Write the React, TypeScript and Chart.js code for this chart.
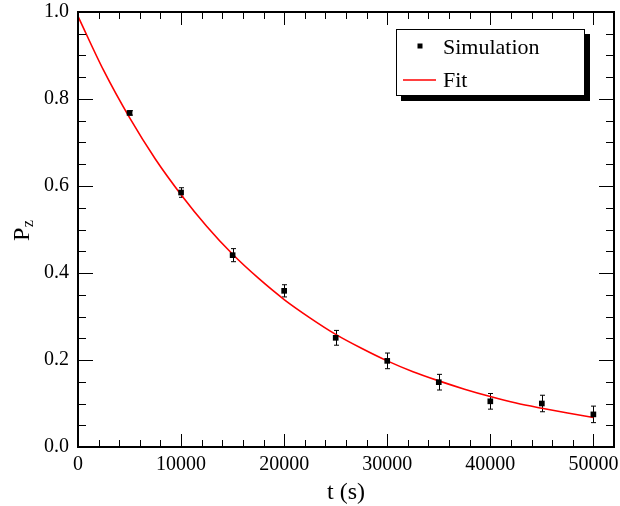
import React, { useEffect, useRef } from 'react';
import { Chart, registerables } from 'chart.js';
Chart.register(...registerables);

// Simulation data (t in s, P_z) with error bars
const simT = [5000, 10000, 15000, 20000, 25000, 30000, 35000, 40000, 45000, 50000];
const simP = [0.768, 0.585, 0.441, 0.359, 0.251, 0.198, 0.149, 0.105, 0.100, 0.075];
const simErr = [0.005, 0.011, 0.015, 0.014, 0.017, 0.018, 0.018, 0.018, 0.019, 0.019];

// Fit curve
const fitT = [0, 2500, 5000, 7500, 10000, 12500, 15000, 17500, 20000, 22500, 25000, 27500, 30000, 32500, 35000, 37500, 40000, 42500, 45000, 47500, 50000];
const fitP = [0.99, 0.865, 0.757, 0.662, 0.58, 0.507, 0.443, 0.388, 0.339, 0.297, 0.259, 0.227, 0.198, 0.173, 0.152, 0.133, 0.116, 0.101, 0.089, 0.078, 0.068];

// Axes
const xMin = 0;
const xMax = 52000;
const xTickValues = [0, 10000, 20000, 30000, 40000, 50000];
const xMajor = 10000;
const xMinor = 2000;
const yMin = 0;
const yMax = 1.0;
const yTickValues = [0, 0.2, 0.4, 0.6, 0.8, 1.0];
const yMajor = 0.2;
const yMinor = 0.05;

const legendLabels = ['Simulation', 'Fit'];
const xTitle = 't (s)';
const yTitleMain = 'P';
const yTitleSub = 'z';

const FONT = "'Liberation Serif', 'Times New Roman', serif";

const decorPlugin = {
  id: 'decor',
  beforeDatasetsDraw(chart: any) {
    const ctx = chart.ctx;
    const xs = chart.scales.x;
    const ys = chart.scales.y;
    ctx.save();
    ctx.strokeStyle = '#000';
    ctx.lineWidth = 1;
    for (let i = 0; i < simT.length; i++) {
      const x = Math.round(xs.getPixelForValue(simT[i])) + 0.5;
      const y1 = ys.getPixelForValue(simP[i] - simErr[i]);
      const y2 = ys.getPixelForValue(simP[i] + simErr[i]);
      ctx.beginPath();
      ctx.moveTo(x, y1);
      ctx.lineTo(x, y2);
      ctx.moveTo(x - 2.5, y1);
      ctx.lineTo(x + 2.5, y1);
      ctx.moveTo(x - 2.5, y2);
      ctx.lineTo(x + 2.5, y2);
      ctx.stroke();
    }
    ctx.restore();
  },
  afterDraw(chart: any) {
    const ctx = chart.ctx;
    const a = chart.chartArea;
    const xs = chart.scales.x;
    const ys = chart.scales.y;
    ctx.save();
    ctx.strokeStyle = '#000';
    // ticks
    ctx.lineWidth = 1;
    ctx.beginPath();
    for (let v = xMin; v <= xMax + 1e-6; v += xMinor) {
      const x = Math.round(xs.getPixelForValue(v)) + 0.5;
      const major = Math.abs(v / xMajor - Math.round(v / xMajor)) < 1e-6;
      const len = major ? 13 : 7;
      ctx.moveTo(x, a.bottom);
      ctx.lineTo(x, a.bottom - len);
      ctx.moveTo(x, a.top);
      ctx.lineTo(x, a.top + len);
    }
    for (let v = yMin; v <= yMax + 1e-6; v += yMinor) {
      const y = Math.round(ys.getPixelForValue(v)) + 0.5;
      const major = Math.abs(v / yMajor - Math.round(v / yMajor)) < 1e-6;
      const len = major ? 15 : 8;
      ctx.moveTo(a.left, y);
      ctx.lineTo(a.left + len, y);
      ctx.moveTo(a.right, y);
      ctx.lineTo(a.right - len, y);
    }
    ctx.stroke();
    // frame
    ctx.lineWidth = 2;
    ctx.strokeRect(a.left, a.top, a.right - a.left, a.bottom - a.top);

    // legend
    const lx = 396, ly = 29, lw = 189, lh = 67;
    ctx.fillStyle = '#000';
    ctx.fillRect(lx + 5, ly + 5, lw, lh);
    ctx.fillStyle = '#fff';
    ctx.fillRect(lx, ly, lw, lh);
    ctx.lineWidth = 1;
    ctx.strokeRect(lx + 0.5, ly + 0.5, lw - 1, lh - 1);
    ctx.fillStyle = '#000';
    ctx.fillRect(417.5, 43.5, 5, 5);
    ctx.strokeStyle = '#ff0000';
    ctx.lineWidth = 1.5;
    ctx.beginPath();
    ctx.moveTo(403, 80);
    ctx.lineTo(436, 80);
    ctx.stroke();
    ctx.fillStyle = '#000';
    ctx.font = `22px ${FONT}`;
    ctx.textBaseline = 'middle';
    ctx.textAlign = 'left';
    ctx.fillText(legendLabels[0], 443, 48);
    ctx.fillText(legendLabels[1], 443, 81);

    // x title
    ctx.font = `24px ${FONT}`;
    ctx.textAlign = 'center';
    ctx.textBaseline = 'alphabetic';
    ctx.fillText(xTitle, (a.left + a.right) / 2, 499);

    // y title with subscript
    ctx.translate(29, 241);
    ctx.rotate(-Math.PI / 2);
    ctx.textAlign = 'left';
    ctx.font = `24px ${FONT}`;
    ctx.fillText(yTitleMain, 0, 0);
    const pw = ctx.measureText(yTitleMain).width;
    ctx.font = `16px ${FONT}`;
    ctx.fillText(yTitleSub, pw + 0.5, 4);
    ctx.restore();
  },
};

export default function App() {
  const ref = useRef<HTMLCanvasElement | null>(null);
  useEffect(() => {
    if (!ref.current) return;
    const chart = new Chart(ref.current, {
      type: 'scatter',
      data: {
        datasets: [
          {
            label: 'Fit',
            type: 'line',
            data: fitT.map((t, i) => ({ x: t, y: fitP[i] })),
            borderColor: '#ff0000',
            borderWidth: 1.6,
            pointRadius: 0,
            cubicInterpolationMode: 'monotone',
            fill: false,
            order: 2,
          } as any,
          {
            label: 'Simulation',
            data: simT.map((t, i) => ({ x: t, y: simP[i] })),
            pointStyle: 'rect',
            pointRadius: 4,
            backgroundColor: '#000',
            borderColor: '#000',
            borderWidth: 0,
            order: 1,
          },
        ],
      },
      options: {
        responsive: false,
        animation: false,
        devicePixelRatio: 1,
        layout: { padding: { left: 0, right: 6, top: 12, bottom: 0 } },
        plugins: { legend: { display: false }, tooltip: { enabled: false } },
        scales: {
          x: {
            type: 'linear',
            min: xMin,
            max: xMax,
            grid: { display: false, drawTicks: false },
            border: { display: false },
            afterBuildTicks: (s: any) => {
              s.ticks = xTickValues.map((v) => ({ value: v }));
            },
            ticks: {
              color: '#000',
              font: { family: FONT, size: 20 },
              padding: 6,
              maxRotation: 0,
              autoSkip: false,
              callback: (v: any) => String(v),
            },
            afterFit: (s: any) => {
              s.height = 59;
              s.paddingLeft = 0;
              s.paddingRight = 0;
            },
          },
          y: {
            type: 'linear',
            min: yMin,
            max: yMax,
            grid: { display: false, drawTicks: false },
            border: { display: false },
            afterBuildTicks: (s: any) => {
              s.ticks = yTickValues.map((v) => ({ value: v }));
            },
            ticks: {
              color: '#000',
              font: { family: FONT, size: 20 },
              padding: 9,
              callback: (v: any) => Number(v).toFixed(1),
            },
            afterFit: (s: any) => {
              s.width = 78;
              s.paddingTop = 0;
              s.paddingBottom = 0;
            },
          },
        },
      },
      plugins: [decorPlugin],
    });
    return () => chart.destroy();
  }, []);
  return (
    <div style={{ position: 'absolute', left: 0, top: 0, width: 620, height: 506, background: '#fff' }}>
      <canvas ref={ref} width={620} height={506} style={{ display: 'block' }} />
    </div>
  );
}
